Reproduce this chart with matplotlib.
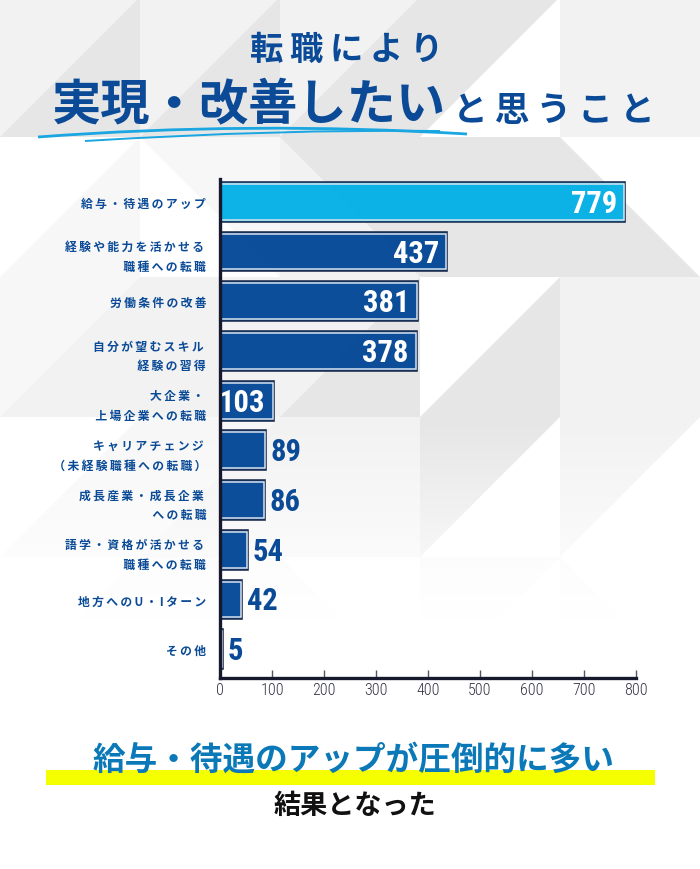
import matplotlib
matplotlib.use("Agg")
import matplotlib.pyplot as plt
from matplotlib import font_manager
from matplotlib.patches import Polygon, Rectangle, PathPatch
from matplotlib.path import Path
import numpy as np

# --- data -------------------------------------------------------------
categories = [
    "給与・待遇のアップ",
    "経験や能力を活かせる\n職種への転職",
    "労働条件の改善",
    "自分が望むスキル\n経験の習得",
    "大企業・\n上場企業への転職",
    "キャリアチェンジ\n（未経験職種への転職）",
    "成長産業・成長企業\nへの転職",
    "語学・資格が活かせる\n職種への転職",
    "地方へのU・Iターン",
    "その他",
]
values = [779, 437, 381, 378, 103, 89, 86, 54, 42, 5]
xticks = [0, 100, 200, 300, 400, 500, 600, 700, 800]
inside_min = 100  # values at or above this get the label inside the bar

title_top = "転職により"
title_big = "実現・改善したい"
title_small = "と思うこと"
note_main = "給与・待遇のアップが圧倒的に多い"
note_sub = "結果となった"

NAVY = "#0a4a96"
BAR = "#004595"
CYAN = "#00afe6"
JP = ["Noto Sans CJK JP", "DejaVu Sans"]

names = {f.name for f in font_manager.fontManager.ttflist}
NUM = next((n for n in ["Roboto Condensed", "Barlow Semi Condensed"] if n in names),
           "DejaVu Sans")


def spaced(s):
    return "\u2009".join(s)


W, H = 700, 870
fig = plt.figure(figsize=(7, 8.7), dpi=100)

# --- background pattern (pixel coords) -------------------------------
bg = fig.add_axes([0, 0, 1, 1], zorder=-10)
bg.set_xlim(0, W)
bg.set_ylim(H, 0)
bg.axis("off")
C = 140
L1, L2, D1 = "#f2f2f2", "#f7f7f7", "#e6e6e6"
# (col, row, base, triangle colour, triangle corner)
cells = [
    (0, 0, L1, D1, "lr"), (1, 0, L1, D1, "lr"), (2, 0, L1, D1, "lr"),
    (3, 0, D1, "white", "lr"), (4, 0, L1, None, None),
    (0, 1, "white", L2, "lr"), (1, 1, "white", L2, "ur"), (2, 1, L1, D1, "ur"),
    (3, 1, D1, None, None), (4, 1, D1, "white", "ur"),
    (0, 2, L1, L2, "ul"), (1, 2, L1, None, None), (2, 2, L1, D1, "lr"),
    (3, 2, "white", D1, "lr"), (4, 2, L1, None, None),
    (0, 3, L2, "white", "ul"), (1, 3, L2, L1, "lr"), (2, 3, L1, None, None),
    (3, 3, D1, "white", "lr"), (4, 3, L1, "white", "lr"),
    (0, 4, "white", L2, "lr"), (1, 4, L2, None, None), (2, 4, "white", L2, "ll"),
    (3, 4, L2, "white", "lr"), (4, 4, "white", L2, "ll"),
]
for c, r, base, tri, kind in cells:
    x0, y0 = c * C, r * C - 2
    bg.add_patch(Rectangle((x0, y0), C, C, facecolor=base, edgecolor="none"))
    if tri:
        pts = {
            "lr": [(x0, y0 + C), (x0 + C, y0), (x0 + C, y0 + C)],
            "ul": [(x0, y0), (x0 + C, y0), (x0, y0 + C)],
            "ur": [(x0, y0), (x0 + C, y0), (x0 + C, y0 + C)],
            "ll": [(x0, y0), (x0, y0 + C), (x0 + C, y0 + C)],
        }[kind]
        bg.add_patch(Polygon(pts, closed=True, facecolor=tri, edgecolor="none"))
# fade to white towards the bottom
grad = np.linspace(0, 1, 256).reshape(-1, 1)
fade = np.ones((256, 1, 4))
fade[..., 3] = np.clip(grad * 1.3, 0, 1)
bg.imshow(fade, extent=(0, W, 680, 420), aspect="auto", zorder=2)
bg.add_patch(Rectangle((0, 680), W, H - 680, facecolor="white", edgecolor="none", zorder=3))

# title swoosh
for (xa, ya), (xm, ym), (xb, yb), lw in [((38, 138), (250, 122), (467, 135), 2.0),
                                         ((85, 142), (280, 130), (440, 132), 1.4)]:
    p = Path([(xa, ya), (xm, ym), (xb, yb)], [Path.MOVETO, Path.CURVE3, Path.CURVE3])
    bg.add_patch(PathPatch(p, facecolor="none", edgecolor="#1aa6e0", lw=lw, zorder=4))

# yellow highlight under the conclusion
bg.add_patch(Rectangle((46, 771), 609, 15, facecolor="#f5ff00", edgecolor="none", zorder=4))

# --- titles ------------------------------------------------------------
fig.text(347 / W, 1 - 50 / H, spaced(title_top), family=JP, weight="bold", fontsize=24,
         color=NAVY, ha="center", va="center")
fig.text(446 / W, 1 - 106 / H, title_big, family=JP, weight="bold", fontsize=35.5,
         color=NAVY, ha="right", va="center")
fig.text(453 / W, 1 - 110 / H, spaced(title_small), family=JP, weight="bold", fontsize=25,
         color=NAVY, ha="left", va="center")

fig.text(354 / W, 1 - 760 / H, note_main, family=JP, weight="bold", fontsize=23.5,
         color="#0b78b8", ha="center", va="center", zorder=5)
fig.text(355 / W, 1 - 806 / H, note_sub, family=JP, weight="bold", fontsize=19.5,
         color="#111111", ha="center", va="center")

# --- chart -------------------------------------------------------------
ax = fig.add_axes([220 / W, 1 - 679 / H, 416 / W, 499 / H])
ax.patch.set_alpha(0)
y = np.arange(len(values))
colors = [CYAN] + [BAR] * (len(values) - 1)
ax.barh(y, values, height=0.8, color=colors, edgecolor="#1b2a4a", linewidth=1.2,
        alpha=0.95, zorder=2)
ax.barh(y, [max(v - 3, 0.5) for v in values], left=1.2, height=0.72, color="none",
        edgecolor="#d8e2ee", linewidth=1.1, zorder=3)

for yi, v in zip(y, values):
    if v >= inside_min:
        ax.text(v - 16, yi + 0.02, str(v), ha="right", va="center", color="white",
                family=NUM, weight="bold", fontsize=22, zorder=4)
    else:
        ax.text(v + 9, yi + 0.02, str(v), ha="left", va="center", color=NAVY,
                family=NUM, weight="bold", fontsize=22, zorder=4)

ax.set_xlim(0, 800)
ax.set_ylim(len(values) - 1 + 0.58, -0.46)
ax.set_xticks(xticks)
ax.set_xticklabels([str(t) for t in xticks], family=NUM, weight="light", fontsize=11.5,
                   color="#333344")
ax.set_yticks(y)
ax.set_yticklabels([spaced(c) for c in categories], family=JP, weight="bold",
                   fontsize=8.5, color=NAVY, linespacing=1.65)
ax.tick_params(axis="y", length=0, pad=10)
ax.tick_params(axis="x", direction="in", length=6, width=1, color="#555566", pad=3)
for s in ["top", "right"]:
    ax.spines[s].set_visible(False)
for s in ["left", "bottom"]:
    ax.spines[s].set_color("#16182e")
    ax.spines[s].set_linewidth(2.4)
    ax.spines[s].set_zorder(5)

fig.savefig("out.png", dpi=100)
